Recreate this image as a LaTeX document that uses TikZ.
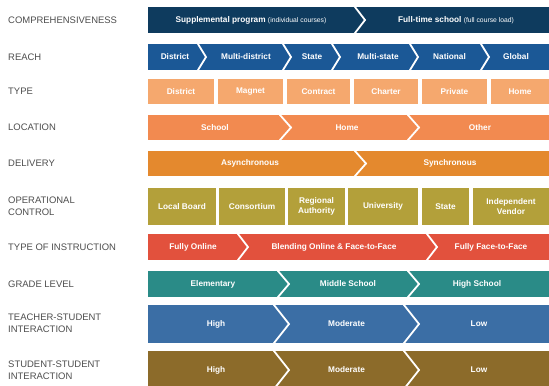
\documentclass[tikz,border=0pt]{standalone}
\usepackage{fontspec}
\setmainfont{Liberation Sans}
\definecolor{labelgray}{HTML}{4E4E4E}
\definecolor{cA}{HTML}{0E3B5E}
\definecolor{cB}{HTML}{1B5896}
\definecolor{cC}{HTML}{F5A86E}
\definecolor{cD}{HTML}{F28A50}
\definecolor{cE}{HTML}{E4892E}
\definecolor{cF}{HTML}{B3A03A}
\definecolor{cG}{HTML}{E2513D}
\definecolor{cH}{HTML}{2A8B87}
\definecolor{cI}{HTML}{3B6EA5}
\definecolor{cJ}{HTML}{8C6B2A}
\newcommand{\segsmall}{\fontsize{6.8}{8}\selectfont\mdseries}
\tikzset{
  lbl/.style={anchor=west, font=\fontsize{9.5}{12.5}\selectfont, text=labelgray, align=left, inner sep=0pt},
  seg/.style={font=\fontsize{8.3}{9.5}\selectfont\bfseries, text=white, align=center, inner sep=0pt},
  chev/.style={draw=white, line width=1.8bp, line cap=rect, line join=miter},
}
\begin{document}
\begin{tikzpicture}[x=1bp,y=-1bp]
\useasboundingbox (0,0) rectangle (549,385);
\fill[white] (0,0) rectangle (549,385);

% Row 1 COMPREHENSIVENESS
\node[lbl] (l1) at (8,20) {COMPREHENSIVENESS};
\fill[cA] (148,7) rectangle (549,33);
\draw[chev] (355,7) -- (365,20) -- (355,33);
\node[seg] (s1a) at (251,20) {Supplemental program {\segsmall (individual courses)}};
\node[seg] (s1b) at (456,20) {Full-time school {\segsmall (full course load)}};

% Row 2 REACH
\node[lbl] (l2) at (8,57) {REACH};
\fill[cB] (148,44) rectangle (549,70);
\foreach \c in {198,283,332,410,481}{
  \draw[chev] (\c,44) -- (\c+8,57) -- (\c,70);
}
\node[seg] (s2a) at (175,57) {District};
\node[seg] (s2b) at (246,57) {Multi-district};
\node[seg] (s2c) at (312,57) {State};
\node[seg] (s2d) at (378,57) {Multi-state};
\node[seg] (s2e) at (449.5,57) {National};
\node[seg] (s2f) at (516,57) {Global};

% Row 3 TYPE
\node[lbl] (l3) at (8,91.5) {TYPE};
\fill[cC] (148,79) rectangle (214,104);
\fill[cC] (218,79) rectangle (283,104);
\fill[cC] (287,79) rectangle (350,104);
\fill[cC] (354,79) rectangle (418,104);
\fill[cC] (422,79) rectangle (487,104);
\fill[cC] (491,79) rectangle (549,104);
\node[seg] (s3a) at (181,91.5) {District};
\node[seg] (s3b) at (250.5,91.5) {Magnet};
\node[seg] (s3c) at (318.5,91.5) {Contract};
\node[seg] (s3d) at (386,91.5) {Charter};
\node[seg] (s3e) at (454.5,91.5) {Private};
\node[seg] (s3f) at (520,91.5) {Home};

% Row 4 LOCATION
\node[lbl] (l4) at (8,127.5) {LOCATION};
\fill[cD] (148,115) rectangle (549,140);
\foreach \c in {280,408}{
  \draw[chev] (\c,115) -- (\c+11,127.5) -- (\c,140);
}
\node[seg] (s4a) at (215,127.5) {School};
\node[seg] (s4b) at (347,127.5) {Home};
\node[seg] (s4c) at (480,127.5) {Other};

% Row 5 DELIVERY
\node[lbl] (l5) at (8,163.5) {DELIVERY};
\fill[cE] (148,151) rectangle (549,176);
\draw[chev] (355,151) -- (366,163.5) -- (355,176);
\node[seg] (s5a) at (250,163.5) {Asynchronous};
\node[seg] (s5b) at (450,163.5) {Synchronous};

% Row 6 OPERATIONAL CONTROL
\node[lbl] (l6) at (8,206.5) {OPERATIONAL\\CONTROL};
\fill[cF] (148,188) rectangle (216,225);
\fill[cF] (219,188) rectangle (285,225);
\fill[cF] (288,188) rectangle (345,225);
\fill[cF] (348,188) rectangle (418,225);
\fill[cF] (422,188) rectangle (469,225);
\fill[cF] (473,188) rectangle (549,225);
\node[seg] (s6a) at (182,206.5) {Local Board};
\node[seg] (s6b) at (252,206.5) {Consortium};
\node[seg] (s6c) at (316.5,206.5) {Regional\\Authority};
\node[seg] (s6d) at (383,206.5) {University};
\node[seg] (s6e) at (445.5,206.5) {State};
\node[seg] (s6f) at (511,206.5) {Independent\\Vendor};

% Row 7 TYPE OF INSTRUCTION
\node[lbl] (l7) at (8,247) {TYPE OF INSTRUCTION};
\fill[cG] (148,234) rectangle (549,260);
\foreach \c in {238,427}{
  \draw[chev] (\c,234) -- (\c+10,247) -- (\c,260);
}
\node[seg] (s7a) at (193,247) {Fully Online};
\node[seg] (s7b) at (334,247) {Blending Online \& Face-to-Face};
\node[seg] (s7c) at (491,247) {Fully Face-to-Face};

% Row 8 GRADE LEVEL
\node[lbl] (l8) at (8,284) {GRADE LEVEL};
\fill[cH] (148,271) rectangle (549,297);
\foreach \c in {278,408}{
  \draw[chev] (\c,271) -- (\c+11,284) -- (\c,297);
}
\node[seg] (s8a) at (213,284) {Elementary};
\node[seg] (s8b) at (348,284) {Middle School};
\node[seg] (s8c) at (477,284) {High School};

% Row 9 TEACHER-STUDENT INTERACTION
\node[lbl] (l9) at (8,323) {TEACHER-STUDENT\\INTERACTION};
\fill[cI] (148,305) rectangle (549,343);
\foreach \c in {274,404}{
  \draw[chev] (\c,305) -- (\c+15,324) -- (\c,343);
}
\node[seg] (s9a) at (216,324) {High};
\node[seg] (s9b) at (346.5,324) {Moderate};
\node[seg] (s9c) at (479,324) {Low};

% Row 10 STUDENT-STUDENT INTERACTION
\node[lbl] (l10) at (8,370) {STUDENT-STUDENT\\INTERACTION};
\fill[cJ] (148,351) rectangle (549,389);
\foreach \c in {274,404}{
  \draw[chev] (\c,351) -- (\c+15,370) -- (\c,389);
}
\node[seg] (s10a) at (216,370) {High};
\node[seg] (s10b) at (346.5,370) {Moderate};
\node[seg] (s10c) at (479,370) {Low};
\end{tikzpicture}
\end{document}
